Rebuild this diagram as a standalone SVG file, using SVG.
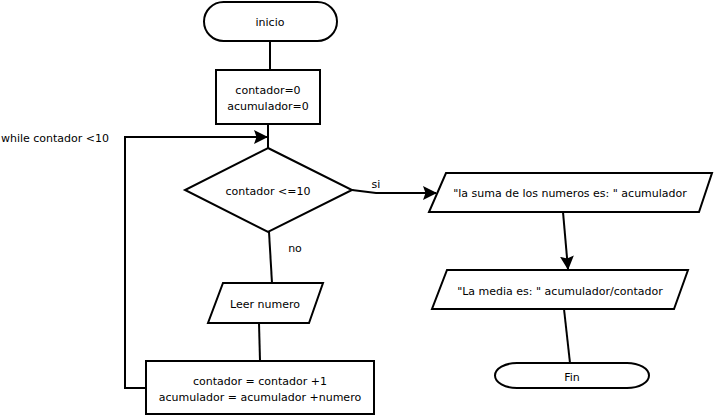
<svg xmlns="http://www.w3.org/2000/svg" width="714" height="417" viewBox="0 0 714 417">
<style>
.s{fill:#fff;stroke:#000;stroke-width:2}
.c{fill:none;stroke:#000;stroke-width:2}
text{font-family:"DejaVu Sans",Verdana,sans-serif;font-size:11px;fill:#000;text-anchor:middle;dominant-baseline:central}
</style>
<defs>
<marker id="a" markerWidth="16" markerHeight="14" refX="13" refY="7" orient="auto" markerUnits="userSpaceOnUse">
<path d="M0,0 L14,7 L0,14 L2.5,7 Z" fill="#000"/>
</marker>
</defs>
<g id="connectors">
<path class="c" d="M270,41 L270,70"/>
<path class="c" d="M268,124 L268,148"/>
<path class="c" d="M146,388 L125,388 L125,137 L267,137" marker-end="url(#a)"/>
<path class="c" d="M352,190 L376,193 L436,193" marker-end="url(#a)"/>
<path class="c" d="M269,232 L272,283"/>
<path class="c" d="M259,323 L260,361"/>
<path class="c" d="M563,212 L568,269" marker-end="url(#a)"/>
<path class="c" d="M564,309 L570,363"/>
<text x="376" y="184">si</text>
<text x="295" y="248">no</text>
<text x="55" y="138">while contador &lt;10</text>
</g>
<g id="inicio">
<rect class="s" x="204" y="2" width="133" height="39" rx="19.5"/>
<text x="270" y="22">inicio</text>
</g>
<g id="init">
<rect class="s" x="216" y="70" width="104" height="54"/>
<text x="268" y="90">contador=0</text>
<text x="268" y="106">acumulador=0</text>
</g>
<g id="cond">
<polygon class="s" points="268,148 352,190 268,232 185,190"/>
<text x="268" y="191">contador &lt;=10</text>
</g>
<g id="leer">
<polygon class="s" points="223,283 323,283 309,323 208,323"/>
<text x="265" y="304">Leer numero</text>
</g>
<g id="update">
<rect class="s" x="146" y="361" width="228" height="53"/>
<text x="260" y="381">contador = contador +1</text>
<text x="260" y="397">acumulador = acumulador +numero</text>
</g>
<g id="suma">
<polygon class="s" points="446,173 712,173 699,212 429,212"/>
<text x="570" y="193">"la suma de los numeros es: " acumulador</text>
</g>
<g id="media">
<polygon class="s" points="447,270 688,270 674,309 432,309"/>
<text x="560" y="291">"La media es: " acumulador/contador</text>
</g>
<g id="fin">
<rect class="s" x="495" y="363" width="154" height="25" rx="22" ry="12.5"/>
<text x="572" y="377">Fin</text>
</g>
</svg>
